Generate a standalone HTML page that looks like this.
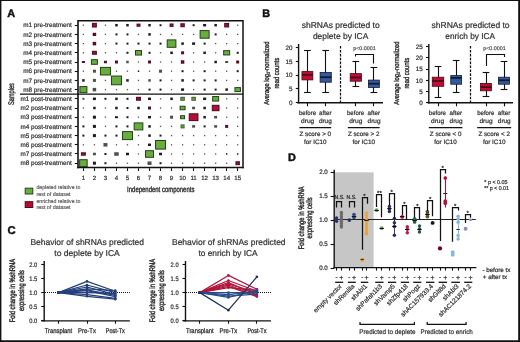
<!DOCTYPE html>
<html><head><meta charset="utf-8"><style>
html,body{margin:0;padding:0;background:#fff;}
svg{display:block;font-family:"Liberation Sans", sans-serif;will-change:transform;text-rendering:geometricPrecision;}
</style></head><body>
<svg width="520" height="342" viewBox="0 0 520 342">
<rect x="0" y="0" width="520" height="342" fill="#fff"/>
<rect x="0.50" y="0.50" width="518.50" height="340.50" fill="none" stroke="#111" stroke-width="1"/>
<rect x="0.00" y="0.00" width="1.40" height="342.00" fill="#111"/>
<rect x="518.40" y="0.00" width="1.60" height="342.00" fill="#111"/>
<rect x="0.00" y="340.50" width="520.00" height="1.50" fill="#111"/>
<text x="7.20" y="16.80" font-size="10.9" text-anchor="start" fill="#111" stroke="#111" stroke-width="0.45" font-weight="bold">A</text>
<text x="71.80" y="27.40" font-size="6.4" text-anchor="end" fill="#333" stroke="#333" stroke-width="0.22" textLength="48.60" lengthAdjust="spacingAndGlyphs">m1 pre-treatment</text>
<line x1="74.80" y1="25.50" x2="77.80" y2="25.50" stroke="#111" stroke-width="1.1"/>
<text x="71.80" y="36.60" font-size="6.4" text-anchor="end" fill="#333" stroke="#333" stroke-width="0.22" textLength="48.60" lengthAdjust="spacingAndGlyphs">m2 pre-treatment</text>
<line x1="74.80" y1="34.50" x2="77.80" y2="34.50" stroke="#111" stroke-width="1.1"/>
<text x="71.80" y="45.80" font-size="6.4" text-anchor="end" fill="#333" stroke="#333" stroke-width="0.22" textLength="48.60" lengthAdjust="spacingAndGlyphs">m3 pre-treatment</text>
<line x1="74.80" y1="43.50" x2="77.80" y2="43.50" stroke="#111" stroke-width="1.1"/>
<text x="71.80" y="55.00" font-size="6.4" text-anchor="end" fill="#333" stroke="#333" stroke-width="0.22" textLength="48.60" lengthAdjust="spacingAndGlyphs">m4 pre-treatment</text>
<line x1="74.80" y1="52.50" x2="77.80" y2="52.50" stroke="#111" stroke-width="1.1"/>
<text x="71.80" y="64.20" font-size="6.4" text-anchor="end" fill="#333" stroke="#333" stroke-width="0.22" textLength="48.60" lengthAdjust="spacingAndGlyphs">m5 pre-treatment</text>
<line x1="74.80" y1="62.50" x2="77.80" y2="62.50" stroke="#111" stroke-width="1.1"/>
<text x="71.80" y="73.40" font-size="6.4" text-anchor="end" fill="#333" stroke="#333" stroke-width="0.22" textLength="48.60" lengthAdjust="spacingAndGlyphs">m6 pre-treatment</text>
<line x1="74.80" y1="71.50" x2="77.80" y2="71.50" stroke="#111" stroke-width="1.1"/>
<text x="71.80" y="82.60" font-size="6.4" text-anchor="end" fill="#333" stroke="#333" stroke-width="0.22" textLength="48.60" lengthAdjust="spacingAndGlyphs">m7 pre-treatment</text>
<line x1="74.80" y1="80.50" x2="77.80" y2="80.50" stroke="#111" stroke-width="1.1"/>
<text x="71.80" y="91.80" font-size="6.4" text-anchor="end" fill="#333" stroke="#333" stroke-width="0.22" textLength="48.60" lengthAdjust="spacingAndGlyphs">m8 pre-treatment</text>
<line x1="74.80" y1="89.50" x2="77.80" y2="89.50" stroke="#111" stroke-width="1.1"/>
<text x="71.80" y="101.00" font-size="6.4" text-anchor="end" fill="#333" stroke="#333" stroke-width="0.22" textLength="51.30" lengthAdjust="spacingAndGlyphs">m1 post-treatment</text>
<line x1="74.80" y1="98.50" x2="77.80" y2="98.50" stroke="#111" stroke-width="1.1"/>
<text x="71.80" y="110.20" font-size="6.4" text-anchor="end" fill="#333" stroke="#333" stroke-width="0.22" textLength="51.30" lengthAdjust="spacingAndGlyphs">m2 post-treatment</text>
<line x1="74.80" y1="108.50" x2="77.80" y2="108.50" stroke="#111" stroke-width="1.1"/>
<text x="71.80" y="119.40" font-size="6.4" text-anchor="end" fill="#333" stroke="#333" stroke-width="0.22" textLength="51.30" lengthAdjust="spacingAndGlyphs">m3 post-treatment</text>
<line x1="74.80" y1="117.50" x2="77.80" y2="117.50" stroke="#111" stroke-width="1.1"/>
<text x="71.80" y="128.60" font-size="6.4" text-anchor="end" fill="#333" stroke="#333" stroke-width="0.22" textLength="51.30" lengthAdjust="spacingAndGlyphs">m4 post-treatment</text>
<line x1="74.80" y1="126.50" x2="77.80" y2="126.50" stroke="#111" stroke-width="1.1"/>
<text x="71.80" y="137.80" font-size="6.4" text-anchor="end" fill="#333" stroke="#333" stroke-width="0.22" textLength="51.30" lengthAdjust="spacingAndGlyphs">m5 post-treatment</text>
<line x1="74.80" y1="135.50" x2="77.80" y2="135.50" stroke="#111" stroke-width="1.1"/>
<text x="71.80" y="147.00" font-size="6.4" text-anchor="end" fill="#333" stroke="#333" stroke-width="0.22" textLength="51.30" lengthAdjust="spacingAndGlyphs">m6 post-treatment</text>
<line x1="74.80" y1="144.50" x2="77.80" y2="144.50" stroke="#111" stroke-width="1.1"/>
<text x="71.80" y="156.20" font-size="6.4" text-anchor="end" fill="#333" stroke="#333" stroke-width="0.22" textLength="51.30" lengthAdjust="spacingAndGlyphs">m7 post-treatment</text>
<line x1="74.80" y1="153.50" x2="77.80" y2="153.50" stroke="#111" stroke-width="1.1"/>
<text x="71.80" y="165.40" font-size="6.4" text-anchor="end" fill="#333" stroke="#333" stroke-width="0.22" textLength="51.30" lengthAdjust="spacingAndGlyphs">m8 post-treatment</text>
<line x1="74.80" y1="163.50" x2="77.80" y2="163.50" stroke="#111" stroke-width="1.1"/>
<rect x="82.75" y="24.55" width="1.30" height="1.30" fill="#555"/>
<rect x="91.92" y="22.85" width="5.00" height="4.70" fill="#5a0c22"/>
<rect x="92.92" y="23.85" width="3.00" height="2.70" fill="#8e1536"/>
<rect x="104.79" y="24.55" width="1.30" height="1.30" fill="#555"/>
<rect x="115.21" y="23.95" width="2.50" height="2.50" fill="#1c1c1c"/>
<rect x="126.23" y="23.95" width="2.50" height="2.50" fill="#1c1c1c"/>
<rect x="136.50" y="23.60" width="4.00" height="3.20" fill="#5a0c22"/>
<rect x="137.50" y="24.60" width="2.00" height="1.20" fill="#8e1536"/>
<rect x="148.27" y="23.95" width="2.50" height="2.50" fill="#1c1c1c"/>
<rect x="159.54" y="24.20" width="2.00" height="2.00" fill="#1c1c1c"/>
<rect x="169.56" y="23.45" width="4.00" height="3.50" fill="#5a0c22"/>
<rect x="170.56" y="24.45" width="2.00" height="1.50" fill="#8e1536"/>
<rect x="180.33" y="23.20" width="4.50" height="4.00" fill="#5a0c22"/>
<rect x="181.33" y="24.20" width="2.50" height="2.00" fill="#8e1536"/>
<rect x="192.60" y="24.20" width="2.00" height="2.00" fill="#1c1c1c"/>
<rect x="203.12" y="23.95" width="3.00" height="2.50" fill="#1c1c1c"/>
<rect x="214.39" y="23.95" width="2.50" height="2.50" fill="#1c1c1c"/>
<rect x="224.16" y="22.95" width="5.00" height="4.50" fill="#5a0c22"/>
<rect x="225.16" y="23.95" width="3.00" height="2.50" fill="#8e1536"/>
<rect x="237.03" y="24.55" width="1.30" height="1.30" fill="#555"/>
<rect x="82.75" y="33.75" width="1.30" height="1.30" fill="#555"/>
<rect x="92.67" y="32.80" width="3.50" height="3.20" fill="#5a0c22"/>
<rect x="104.79" y="33.75" width="1.30" height="1.30" fill="#555"/>
<rect x="115.46" y="33.40" width="2.00" height="2.00" fill="#1c1c1c"/>
<rect x="126.48" y="33.40" width="2.00" height="2.00" fill="#1c1c1c"/>
<rect x="137.85" y="33.75" width="1.30" height="1.30" fill="#555"/>
<rect x="148.27" y="33.15" width="2.50" height="2.50" fill="#1c1c1c"/>
<rect x="159.89" y="33.75" width="1.30" height="1.30" fill="#555"/>
<rect x="170.91" y="33.75" width="1.30" height="1.30" fill="#555"/>
<rect x="181.93" y="33.75" width="1.30" height="1.30" fill="#555"/>
<rect x="192.95" y="33.75" width="1.30" height="1.30" fill="#555"/>
<rect x="200.12" y="30.60" width="9.00" height="7.60" fill="#68ae3c" stroke="#24401a" stroke-width="1.0"/>
<rect x="214.64" y="33.40" width="2.00" height="2.00" fill="#1c1c1c"/>
<rect x="226.01" y="33.75" width="1.30" height="1.30" fill="#555"/>
<rect x="237.03" y="33.75" width="1.30" height="1.30" fill="#555"/>
<rect x="82.75" y="42.95" width="1.30" height="1.30" fill="#555"/>
<rect x="92.67" y="41.85" width="3.50" height="3.50" fill="#5a0c22"/>
<rect x="104.79" y="42.95" width="1.30" height="1.30" fill="#555"/>
<rect x="115.46" y="42.60" width="2.00" height="2.00" fill="#1c1c1c"/>
<rect x="126.48" y="42.60" width="2.00" height="2.00" fill="#1c1c1c"/>
<rect x="137.50" y="42.60" width="2.00" height="2.00" fill="#1c1c1c"/>
<rect x="148.52" y="42.60" width="2.00" height="2.00" fill="#1c1c1c"/>
<rect x="159.54" y="42.60" width="2.00" height="2.00" fill="#1c1c1c"/>
<rect x="167.21" y="39.90" width="8.70" height="7.40" fill="#68ae3c" stroke="#24401a" stroke-width="1.0"/>
<rect x="181.33" y="42.35" width="2.50" height="2.50" fill="#1c1c1c"/>
<rect x="192.10" y="42.35" width="3.00" height="2.50" fill="#1c1c1c"/>
<rect x="203.62" y="42.60" width="2.00" height="2.00" fill="#1c1c1c"/>
<rect x="214.99" y="42.95" width="1.30" height="1.30" fill="#555"/>
<rect x="226.01" y="42.95" width="1.30" height="1.30" fill="#555"/>
<rect x="237.03" y="42.95" width="1.30" height="1.30" fill="#555"/>
<rect x="82.75" y="52.15" width="1.30" height="1.30" fill="#555"/>
<rect x="91.92" y="50.80" width="5.00" height="4.00" fill="#5a0c22"/>
<rect x="92.92" y="51.80" width="3.00" height="2.00" fill="#8e1536"/>
<rect x="104.79" y="52.15" width="1.30" height="1.30" fill="#555"/>
<rect x="115.81" y="52.15" width="1.30" height="1.30" fill="#555"/>
<rect x="126.48" y="51.80" width="2.00" height="2.00" fill="#1c1c1c"/>
<rect x="135.50" y="50.55" width="6.00" height="4.50" fill="#68ae3c" stroke="#24401a" stroke-width="1.0"/>
<rect x="148.52" y="51.80" width="2.00" height="2.00" fill="#1c1c1c"/>
<rect x="159.89" y="52.15" width="1.30" height="1.30" fill="#555"/>
<rect x="170.31" y="51.55" width="2.50" height="2.50" fill="#1c1c1c"/>
<rect x="181.08" y="51.30" width="3.00" height="3.00" fill="#5a0c22"/>
<rect x="192.95" y="52.15" width="1.30" height="1.30" fill="#555"/>
<rect x="203.37" y="51.55" width="2.50" height="2.50" fill="#1c1c1c"/>
<rect x="214.99" y="52.15" width="1.30" height="1.30" fill="#555"/>
<rect x="223.66" y="50.65" width="6.00" height="4.30" fill="#68ae3c" stroke="#24401a" stroke-width="1.0"/>
<rect x="236.68" y="51.80" width="2.00" height="2.00" fill="#1c1c1c"/>
<rect x="81.90" y="61.00" width="3.00" height="2.00" fill="#5a0c22"/>
<rect x="91.42" y="59.70" width="6.00" height="4.60" fill="#68ae3c" stroke="#24401a" stroke-width="1.0"/>
<rect x="103.94" y="60.75" width="3.00" height="2.50" fill="#5a0c22"/>
<rect x="114.96" y="60.50" width="3.00" height="3.00" fill="#5a0c22"/>
<rect x="126.23" y="60.75" width="2.50" height="2.50" fill="#4a5246"/>
<rect x="137.85" y="61.35" width="1.30" height="1.30" fill="#555"/>
<rect x="148.02" y="60.50" width="3.00" height="3.00" fill="#5a0c22"/>
<rect x="159.89" y="61.35" width="1.30" height="1.30" fill="#555"/>
<rect x="170.91" y="61.35" width="1.30" height="1.30" fill="#555"/>
<rect x="180.83" y="60.25" width="3.50" height="3.50" fill="#5a0c22"/>
<rect x="192.95" y="61.35" width="1.30" height="1.30" fill="#555"/>
<rect x="203.97" y="61.35" width="1.30" height="1.30" fill="#555"/>
<rect x="214.39" y="60.75" width="2.50" height="2.50" fill="#1c1c1c"/>
<rect x="225.16" y="61.00" width="3.00" height="2.00" fill="#4a5246"/>
<rect x="236.18" y="60.50" width="3.00" height="3.00" fill="#5a0c22"/>
<rect x="82.75" y="70.55" width="1.30" height="1.30" fill="#555"/>
<rect x="92.92" y="69.70" width="3.00" height="3.00" fill="#4a5246"/>
<rect x="100.44" y="67.40" width="10.00" height="7.60" fill="#68ae3c" stroke="#24401a" stroke-width="1.0"/>
<rect x="115.81" y="70.55" width="1.30" height="1.30" fill="#555"/>
<rect x="126.83" y="70.55" width="1.30" height="1.30" fill="#555"/>
<rect x="137.75" y="70.45" width="1.50" height="1.50" fill="#1c1c1c"/>
<rect x="148.87" y="70.55" width="1.30" height="1.30" fill="#555"/>
<rect x="159.04" y="69.70" width="3.00" height="3.00" fill="#4a5246"/>
<rect x="170.91" y="70.55" width="1.30" height="1.30" fill="#555"/>
<rect x="181.58" y="70.20" width="2.00" height="2.00" fill="#1c1c1c"/>
<rect x="192.95" y="70.55" width="1.30" height="1.30" fill="#555"/>
<rect x="203.62" y="70.20" width="2.00" height="2.00" fill="#1c1c1c"/>
<rect x="214.99" y="70.55" width="1.30" height="1.30" fill="#555"/>
<rect x="226.01" y="70.55" width="1.30" height="1.30" fill="#555"/>
<rect x="236.68" y="70.20" width="2.00" height="2.00" fill="#1c1c1c"/>
<rect x="82.15" y="79.15" width="2.50" height="2.50" fill="#1c1c1c"/>
<rect x="92.92" y="78.90" width="3.00" height="3.00" fill="#4a5246"/>
<rect x="104.79" y="79.75" width="1.30" height="1.30" fill="#555"/>
<rect x="111.46" y="76.05" width="10.00" height="8.70" fill="#68ae3c" stroke="#24401a" stroke-width="1.0"/>
<rect x="126.23" y="79.15" width="2.50" height="2.50" fill="#1c1c1c"/>
<rect x="137.85" y="79.75" width="1.30" height="1.30" fill="#555"/>
<rect x="148.27" y="79.15" width="2.50" height="2.50" fill="#4a5246"/>
<rect x="159.54" y="79.40" width="2.00" height="2.00" fill="#1c1c1c"/>
<rect x="170.91" y="79.75" width="1.30" height="1.30" fill="#555"/>
<rect x="181.33" y="79.15" width="2.50" height="2.50" fill="#1c1c1c"/>
<rect x="192.60" y="79.40" width="2.00" height="2.00" fill="#1c1c1c"/>
<rect x="203.62" y="79.40" width="2.00" height="2.00" fill="#1c1c1c"/>
<rect x="214.64" y="79.40" width="2.00" height="2.00" fill="#1c1c1c"/>
<rect x="226.01" y="79.75" width="1.30" height="1.30" fill="#555"/>
<rect x="237.03" y="79.75" width="1.30" height="1.30" fill="#555"/>
<rect x="79.90" y="86.60" width="7.00" height="6.00" fill="#68ae3c" stroke="#24401a" stroke-width="1.0"/>
<rect x="92.67" y="87.85" width="3.50" height="3.50" fill="#4a5246"/>
<rect x="104.79" y="88.95" width="1.30" height="1.30" fill="#555"/>
<rect x="115.81" y="88.95" width="1.30" height="1.30" fill="#555"/>
<rect x="126.83" y="88.95" width="1.30" height="1.30" fill="#555"/>
<rect x="137.85" y="88.95" width="1.30" height="1.30" fill="#555"/>
<rect x="148.52" y="88.60" width="2.00" height="2.00" fill="#1c1c1c"/>
<rect x="159.54" y="88.60" width="2.00" height="2.00" fill="#1c1c1c"/>
<rect x="170.91" y="88.95" width="1.30" height="1.30" fill="#555"/>
<rect x="181.08" y="88.35" width="3.00" height="2.50" fill="#1c1c1c"/>
<rect x="192.95" y="88.95" width="1.30" height="1.30" fill="#555"/>
<rect x="203.62" y="88.60" width="2.00" height="2.00" fill="#1c1c1c"/>
<rect x="214.64" y="88.60" width="2.00" height="2.00" fill="#1c1c1c"/>
<rect x="225.41" y="88.35" width="2.50" height="2.50" fill="#1c1c1c"/>
<rect x="234.93" y="87.60" width="5.50" height="4.00" fill="#68ae3c" stroke="#24401a" stroke-width="1.0"/>
<rect x="82.40" y="97.80" width="2.00" height="2.00" fill="#4a5246"/>
<rect x="92.92" y="97.55" width="3.00" height="2.50" fill="#1c1c1c"/>
<rect x="104.44" y="97.80" width="2.00" height="2.00" fill="#1c1c1c"/>
<rect x="115.21" y="97.55" width="2.50" height="2.50" fill="#1c1c1c"/>
<rect x="126.48" y="97.80" width="2.00" height="2.00" fill="#1c1c1c"/>
<rect x="136.00" y="96.80" width="5.00" height="4.00" fill="#5a0c22"/>
<rect x="137.00" y="97.80" width="3.00" height="2.00" fill="#8e1536"/>
<rect x="148.02" y="97.55" width="3.00" height="2.50" fill="#1c1c1c"/>
<rect x="159.89" y="98.15" width="1.30" height="1.30" fill="#555"/>
<rect x="170.31" y="97.55" width="2.50" height="2.50" fill="#1c1c1c"/>
<rect x="180.33" y="96.80" width="4.50" height="4.00" fill="#3c5a2c"/>
<rect x="181.23" y="97.70" width="2.70" height="2.20" fill="#6c9a4c"/>
<rect x="191.35" y="96.80" width="4.50" height="4.00" fill="#3c5a2c"/>
<rect x="192.25" y="97.70" width="2.70" height="2.20" fill="#6c9a4c"/>
<rect x="203.12" y="97.55" width="3.00" height="2.50" fill="#1c1c1c"/>
<rect x="212.64" y="96.55" width="6.00" height="4.50" fill="#68ae3c" stroke="#24401a" stroke-width="1.0"/>
<rect x="226.01" y="98.15" width="1.30" height="1.30" fill="#555"/>
<rect x="237.03" y="98.15" width="1.30" height="1.30" fill="#555"/>
<rect x="82.75" y="107.35" width="1.30" height="1.30" fill="#555"/>
<rect x="93.17" y="106.75" width="2.50" height="2.50" fill="#1c1c1c"/>
<rect x="104.79" y="107.35" width="1.30" height="1.30" fill="#555"/>
<rect x="115.21" y="106.75" width="2.50" height="2.50" fill="#1c1c1c"/>
<rect x="126.48" y="107.00" width="2.00" height="2.00" fill="#1c1c1c"/>
<rect x="137.25" y="106.75" width="2.50" height="2.50" fill="#1c1c1c"/>
<rect x="148.02" y="106.50" width="3.00" height="3.00" fill="#5a0c22"/>
<rect x="159.89" y="107.35" width="1.30" height="1.30" fill="#555"/>
<rect x="170.91" y="107.35" width="1.30" height="1.30" fill="#555"/>
<rect x="180.08" y="106.25" width="5.00" height="3.50" fill="#68ae3c" stroke="#24401a" stroke-width="1.0"/>
<rect x="192.10" y="106.75" width="3.00" height="2.50" fill="#4a5246"/>
<rect x="203.37" y="106.75" width="2.50" height="2.50" fill="#1c1c1c"/>
<rect x="212.29" y="105.30" width="6.70" height="5.40" fill="#b50d37" stroke="#4a0818" stroke-width="1.0"/>
<rect x="226.01" y="107.35" width="1.30" height="1.30" fill="#555"/>
<rect x="237.03" y="107.35" width="1.30" height="1.30" fill="#555"/>
<rect x="82.75" y="116.55" width="1.30" height="1.30" fill="#555"/>
<rect x="92.92" y="115.70" width="3.00" height="3.00" fill="#1c1c1c"/>
<rect x="104.79" y="116.55" width="1.30" height="1.30" fill="#555"/>
<rect x="114.96" y="116.20" width="3.00" height="2.00" fill="#1c1c1c"/>
<rect x="126.48" y="116.20" width="2.00" height="2.00" fill="#1c1c1c"/>
<rect x="137.85" y="116.55" width="1.30" height="1.30" fill="#555"/>
<rect x="148.02" y="115.95" width="3.00" height="2.50" fill="#1c1c1c"/>
<rect x="159.89" y="116.55" width="1.30" height="1.30" fill="#555"/>
<rect x="170.06" y="115.70" width="3.00" height="3.00" fill="#4a5246"/>
<rect x="180.58" y="115.70" width="4.00" height="3.00" fill="#68ae3c" stroke="#24401a" stroke-width="1.0"/>
<rect x="189.25" y="113.80" width="8.70" height="6.80" fill="#b50d37" stroke="#4a0818" stroke-width="1.0"/>
<rect x="203.37" y="115.95" width="2.50" height="2.50" fill="#1c1c1c"/>
<rect x="214.14" y="115.95" width="3.00" height="2.50" fill="#4a5246"/>
<rect x="226.01" y="116.55" width="1.30" height="1.30" fill="#555"/>
<rect x="237.03" y="116.55" width="1.30" height="1.30" fill="#555"/>
<rect x="82.40" y="125.40" width="2.00" height="2.00" fill="#1c1c1c"/>
<rect x="92.92" y="124.90" width="3.00" height="3.00" fill="#1c1c1c"/>
<rect x="104.79" y="125.75" width="1.30" height="1.30" fill="#555"/>
<rect x="115.46" y="125.40" width="2.00" height="2.00" fill="#1c1c1c"/>
<rect x="126.48" y="125.40" width="2.00" height="2.00" fill="#1c1c1c"/>
<rect x="134.15" y="122.90" width="8.70" height="7.00" fill="#68ae3c" stroke="#24401a" stroke-width="1.0"/>
<rect x="148.27" y="125.15" width="2.50" height="2.50" fill="#1c1c1c"/>
<rect x="159.89" y="125.75" width="1.30" height="1.30" fill="#555"/>
<rect x="170.91" y="125.75" width="1.30" height="1.30" fill="#555"/>
<rect x="180.58" y="124.40" width="4.00" height="4.00" fill="#3c5a2c"/>
<rect x="181.48" y="125.30" width="2.20" height="2.20" fill="#6c9a4c"/>
<rect x="192.10" y="125.15" width="3.00" height="2.50" fill="#4a5246"/>
<rect x="203.62" y="125.40" width="2.00" height="2.00" fill="#1c1c1c"/>
<rect x="214.14" y="125.15" width="3.00" height="2.50" fill="#4a5246"/>
<rect x="225.16" y="124.90" width="3.00" height="3.00" fill="#5a0c22"/>
<rect x="237.03" y="125.75" width="1.30" height="1.30" fill="#555"/>
<rect x="82.40" y="134.60" width="2.00" height="2.00" fill="#1c1c1c"/>
<rect x="92.92" y="134.10" width="3.00" height="3.00" fill="#1c1c1c"/>
<rect x="104.44" y="134.60" width="2.00" height="2.00" fill="#1c1c1c"/>
<rect x="115.46" y="134.60" width="2.00" height="2.00" fill="#1c1c1c"/>
<rect x="122.48" y="131.60" width="10.00" height="8.00" fill="#68ae3c" stroke="#24401a" stroke-width="1.0"/>
<rect x="137.85" y="134.95" width="1.30" height="1.30" fill="#555"/>
<rect x="148.27" y="134.35" width="2.50" height="2.50" fill="#1c1c1c"/>
<rect x="159.54" y="134.60" width="2.00" height="2.00" fill="#1c1c1c"/>
<rect x="170.91" y="134.95" width="1.30" height="1.30" fill="#555"/>
<rect x="181.93" y="134.95" width="1.30" height="1.30" fill="#555"/>
<rect x="192.95" y="134.95" width="1.30" height="1.30" fill="#555"/>
<rect x="203.97" y="134.95" width="1.30" height="1.30" fill="#555"/>
<rect x="214.99" y="134.95" width="1.30" height="1.30" fill="#555"/>
<rect x="226.01" y="134.95" width="1.30" height="1.30" fill="#555"/>
<rect x="237.03" y="134.95" width="1.30" height="1.30" fill="#555"/>
<rect x="82.75" y="144.15" width="1.30" height="1.30" fill="#555"/>
<rect x="93.77" y="144.15" width="1.30" height="1.30" fill="#555"/>
<rect x="103.44" y="143.05" width="4.00" height="3.50" fill="#4a5246"/>
<rect x="115.81" y="144.15" width="1.30" height="1.30" fill="#555"/>
<rect x="126.83" y="144.15" width="1.30" height="1.30" fill="#555"/>
<rect x="137.85" y="144.15" width="1.30" height="1.30" fill="#555"/>
<rect x="148.02" y="143.55" width="3.00" height="2.50" fill="#1c1c1c"/>
<rect x="155.54" y="140.50" width="10.00" height="8.60" fill="#68ae3c" stroke="#24401a" stroke-width="1.0"/>
<rect x="170.91" y="144.15" width="1.30" height="1.30" fill="#555"/>
<rect x="181.93" y="144.15" width="1.30" height="1.30" fill="#555"/>
<rect x="192.95" y="144.15" width="1.30" height="1.30" fill="#555"/>
<rect x="203.97" y="144.15" width="1.30" height="1.30" fill="#555"/>
<rect x="214.99" y="144.15" width="1.30" height="1.30" fill="#555"/>
<rect x="226.01" y="144.15" width="1.30" height="1.30" fill="#555"/>
<rect x="237.03" y="144.15" width="1.30" height="1.30" fill="#555"/>
<rect x="80.90" y="152.25" width="5.00" height="3.50" fill="#5a0c22"/>
<rect x="81.90" y="153.25" width="3.00" height="1.50" fill="#8e1536"/>
<rect x="92.92" y="152.75" width="3.00" height="2.50" fill="#4a5246"/>
<rect x="104.44" y="153.00" width="2.00" height="2.00" fill="#1c1c1c"/>
<rect x="114.21" y="152.25" width="4.50" height="3.50" fill="#4a5246"/>
<rect x="125.98" y="152.75" width="3.00" height="2.50" fill="#1c1c1c"/>
<rect x="137.85" y="153.35" width="1.30" height="1.30" fill="#555"/>
<rect x="145.52" y="150.70" width="8.00" height="6.60" fill="#68ae3c" stroke="#24401a" stroke-width="1.0"/>
<rect x="159.04" y="152.75" width="3.00" height="2.50" fill="#1c1c1c"/>
<rect x="170.91" y="153.35" width="1.30" height="1.30" fill="#555"/>
<rect x="181.93" y="153.35" width="1.30" height="1.30" fill="#555"/>
<rect x="192.95" y="153.35" width="1.30" height="1.30" fill="#555"/>
<rect x="203.97" y="153.35" width="1.30" height="1.30" fill="#555"/>
<rect x="214.99" y="153.35" width="1.30" height="1.30" fill="#555"/>
<rect x="225.91" y="153.25" width="1.50" height="1.50" fill="#1c1c1c"/>
<rect x="236.93" y="153.25" width="1.50" height="1.50" fill="#1c1c1c"/>
<rect x="79.65" y="159.70" width="7.50" height="7.00" fill="#68ae3c" stroke="#24401a" stroke-width="1.0"/>
<rect x="92.92" y="161.70" width="3.00" height="3.00" fill="#1c1c1c"/>
<rect x="104.44" y="162.20" width="2.00" height="2.00" fill="#1c1c1c"/>
<rect x="115.81" y="162.55" width="1.30" height="1.30" fill="#555"/>
<rect x="126.83" y="162.55" width="1.30" height="1.30" fill="#555"/>
<rect x="137.85" y="162.55" width="1.30" height="1.30" fill="#555"/>
<rect x="147.52" y="161.45" width="4.00" height="3.50" fill="#4a5246"/>
<rect x="159.54" y="162.20" width="2.00" height="2.00" fill="#1c1c1c"/>
<rect x="170.91" y="162.55" width="1.30" height="1.30" fill="#555"/>
<rect x="181.93" y="162.55" width="1.30" height="1.30" fill="#555"/>
<rect x="192.95" y="162.55" width="1.30" height="1.30" fill="#555"/>
<rect x="203.97" y="162.55" width="1.30" height="1.30" fill="#555"/>
<rect x="214.99" y="162.55" width="1.30" height="1.30" fill="#555"/>
<rect x="226.01" y="162.55" width="1.30" height="1.30" fill="#555"/>
<rect x="235.43" y="161.20" width="4.50" height="4.00" fill="#5a0c22"/>
<rect x="236.43" y="162.20" width="2.50" height="2.00" fill="#8e1536"/>
<line x1="78.00" y1="20.70" x2="243.00" y2="20.70" stroke="#111" stroke-width="1.5"/>
<line x1="78.00" y1="20.00" x2="78.00" y2="168.20" stroke="#111" stroke-width="1.6"/>
<line x1="243.00" y1="20.00" x2="243.00" y2="168.20" stroke="#111" stroke-width="1.5"/>
<line x1="77.20" y1="167.60" x2="243.70" y2="167.60" stroke="#111" stroke-width="1.5"/>
<line x1="20.00" y1="94.20" x2="243.00" y2="94.20" stroke="#111" stroke-width="1.3"/>
<line x1="83.50" y1="168.20" x2="83.50" y2="171.00" stroke="#111" stroke-width="1.1"/>
<text x="83.40" y="180.10" font-size="6.1" text-anchor="middle" fill="#333" stroke="#333" stroke-width="0.22">1</text>
<line x1="94.50" y1="168.20" x2="94.50" y2="171.00" stroke="#111" stroke-width="1.1"/>
<text x="94.42" y="180.10" font-size="6.1" text-anchor="middle" fill="#333" stroke="#333" stroke-width="0.22">2</text>
<line x1="105.50" y1="168.20" x2="105.50" y2="171.00" stroke="#111" stroke-width="1.1"/>
<text x="105.44" y="180.10" font-size="6.1" text-anchor="middle" fill="#333" stroke="#333" stroke-width="0.22">3</text>
<line x1="116.50" y1="168.20" x2="116.50" y2="171.00" stroke="#111" stroke-width="1.1"/>
<text x="116.46" y="180.10" font-size="6.1" text-anchor="middle" fill="#333" stroke="#333" stroke-width="0.22">4</text>
<line x1="127.50" y1="168.20" x2="127.50" y2="171.00" stroke="#111" stroke-width="1.1"/>
<text x="127.48" y="180.10" font-size="6.1" text-anchor="middle" fill="#333" stroke="#333" stroke-width="0.22">5</text>
<line x1="138.50" y1="168.20" x2="138.50" y2="171.00" stroke="#111" stroke-width="1.1"/>
<text x="138.50" y="180.10" font-size="6.1" text-anchor="middle" fill="#333" stroke="#333" stroke-width="0.22">6</text>
<line x1="149.50" y1="168.20" x2="149.50" y2="171.00" stroke="#111" stroke-width="1.1"/>
<text x="149.52" y="180.10" font-size="6.1" text-anchor="middle" fill="#333" stroke="#333" stroke-width="0.22">7</text>
<line x1="160.50" y1="168.20" x2="160.50" y2="171.00" stroke="#111" stroke-width="1.1"/>
<text x="160.54" y="180.10" font-size="6.1" text-anchor="middle" fill="#333" stroke="#333" stroke-width="0.22">8</text>
<line x1="171.50" y1="168.20" x2="171.50" y2="171.00" stroke="#111" stroke-width="1.1"/>
<text x="171.56" y="180.10" font-size="6.1" text-anchor="middle" fill="#333" stroke="#333" stroke-width="0.22">9</text>
<line x1="182.50" y1="168.20" x2="182.50" y2="171.00" stroke="#111" stroke-width="1.1"/>
<text x="182.58" y="180.10" font-size="6.1" text-anchor="middle" fill="#333" stroke="#333" stroke-width="0.22">10</text>
<line x1="193.50" y1="168.20" x2="193.50" y2="171.00" stroke="#111" stroke-width="1.1"/>
<text x="193.60" y="180.10" font-size="6.1" text-anchor="middle" fill="#333" stroke="#333" stroke-width="0.22">11</text>
<line x1="204.50" y1="168.20" x2="204.50" y2="171.00" stroke="#111" stroke-width="1.1"/>
<text x="204.62" y="180.10" font-size="6.1" text-anchor="middle" fill="#333" stroke="#333" stroke-width="0.22">12</text>
<line x1="215.50" y1="168.20" x2="215.50" y2="171.00" stroke="#111" stroke-width="1.1"/>
<text x="215.64" y="180.10" font-size="6.1" text-anchor="middle" fill="#333" stroke="#333" stroke-width="0.22">13</text>
<line x1="226.50" y1="168.20" x2="226.50" y2="171.00" stroke="#111" stroke-width="1.1"/>
<text x="226.66" y="180.10" font-size="6.1" text-anchor="middle" fill="#333" stroke="#333" stroke-width="0.22">14</text>
<line x1="237.50" y1="168.20" x2="237.50" y2="171.00" stroke="#111" stroke-width="1.1"/>
<text x="237.68" y="180.10" font-size="6.1" text-anchor="middle" fill="#333" stroke="#333" stroke-width="0.22">15</text>
<text x="127.10" y="191.70" font-size="7.8" text-anchor="start" fill="#333" stroke="#333" stroke-width="0.4" textLength="67.30" lengthAdjust="spacingAndGlyphs">Independent components</text>
<text x="14.10" y="94.10" font-size="8.2" text-anchor="middle" fill="#333" stroke="#333" stroke-width="0.4" textLength="22.00" lengthAdjust="spacingAndGlyphs" transform="rotate(-90 14.10 94.10)">Samples</text>
<rect x="25.20" y="188.20" width="7.60" height="5.80" fill="#68ae3c" stroke="#24401a" stroke-width="1"/>
<rect x="25.20" y="201.70" width="7.60" height="5.80" fill="#b50d37" stroke="#4a0818" stroke-width="1"/>
<text x="36.40" y="189.40" font-size="5.4" text-anchor="start" fill="#555" stroke="#555" stroke-width="0.15" textLength="44.00" lengthAdjust="spacingAndGlyphs">depleted relative to</text>
<text x="36.40" y="195.90" font-size="5.4" text-anchor="start" fill="#555" stroke="#555" stroke-width="0.15">rest of dataset</text>
<text x="36.40" y="202.90" font-size="5.4" text-anchor="start" fill="#555" stroke="#555" stroke-width="0.15" textLength="44.00" lengthAdjust="spacingAndGlyphs">enriched relative to</text>
<text x="36.40" y="209.30" font-size="5.4" text-anchor="start" fill="#555" stroke="#555" stroke-width="0.15">rest of dataset</text>
<text x="262.30" y="16.80" font-size="10.9" text-anchor="start" fill="#111" stroke="#111" stroke-width="0.45" font-weight="bold">B</text>
<text x="301.70" y="28.40" font-size="8.5" text-anchor="start" fill="#333" stroke="#333" stroke-width="0.22" textLength="78.00" lengthAdjust="spacingAndGlyphs">shRNAs predicted to</text>
<text x="312.90" y="38.90" font-size="8.5" text-anchor="start" fill="#333" stroke="#333" stroke-width="0.22" textLength="55.40" lengthAdjust="spacingAndGlyphs">deplete by ICA</text>
<line x1="298.60" y1="44.00" x2="298.60" y2="103.40" stroke="#111" stroke-width="1.4"/>
<line x1="297.40" y1="102.70" x2="383.00" y2="102.70" stroke="#111" stroke-width="1.4"/>
<line x1="295.80" y1="102.50" x2="298.60" y2="102.50" stroke="#111" stroke-width="1.1"/>
<text x="292.60" y="104.90" font-size="6.3" text-anchor="end" fill="#333" stroke="#333" stroke-width="0.22">0</text>
<line x1="295.80" y1="88.50" x2="298.60" y2="88.50" stroke="#111" stroke-width="1.1"/>
<text x="292.60" y="91.10" font-size="6.3" text-anchor="end" fill="#333" stroke="#333" stroke-width="0.22">5</text>
<line x1="295.80" y1="75.50" x2="298.60" y2="75.50" stroke="#111" stroke-width="1.1"/>
<text x="292.60" y="77.30" font-size="6.3" text-anchor="end" fill="#333" stroke="#333" stroke-width="0.22">10</text>
<line x1="295.80" y1="61.50" x2="298.60" y2="61.50" stroke="#111" stroke-width="1.1"/>
<text x="292.60" y="63.50" font-size="6.3" text-anchor="end" fill="#333" stroke="#333" stroke-width="0.22">15</text>
<line x1="295.80" y1="47.50" x2="298.60" y2="47.50" stroke="#111" stroke-width="1.1"/>
<text x="292.60" y="49.70" font-size="6.3" text-anchor="end" fill="#333" stroke="#333" stroke-width="0.22">20</text>
<text x="268.90" y="73.20" font-size="7.2" text-anchor="middle" fill="#333" stroke="#333" stroke-width="0.4" textLength="63.30" lengthAdjust="spacingAndGlyphs" transform="rotate(-90 268.90 73.20)">Average log₂-normalized</text>
<text x="279.00" y="73.20" font-size="7.4" text-anchor="middle" fill="#333" stroke="#333" stroke-width="0.4" textLength="30.80" lengthAdjust="spacingAndGlyphs" transform="rotate(-90 279.00 73.20)">read counts</text>
<line x1="340.50" y1="46.00" x2="340.50" y2="102.70" stroke="#111" stroke-width="1.25" stroke-dasharray="2.6 1.3"/>
<line x1="307.50" y1="50.70" x2="307.50" y2="92.50" stroke="#111" stroke-width="1.1"/>
<line x1="304.05" y1="50.50" x2="310.75" y2="50.50" stroke="#111" stroke-width="1.1"/>
<line x1="304.05" y1="92.50" x2="310.75" y2="92.50" stroke="#111" stroke-width="1.1"/>
<rect x="301.95" y="71.60" width="10.90" height="8.30" fill="#c00d36" stroke="#4a0614" stroke-width="0.8"/>
<line x1="301.95" y1="74.80" x2="312.85" y2="74.80" stroke="#4a0614" stroke-width="1.8"/>
<line x1="325.50" y1="50.70" x2="325.50" y2="92.80" stroke="#111" stroke-width="1.1"/>
<line x1="322.35" y1="50.50" x2="329.05" y2="50.50" stroke="#111" stroke-width="1.1"/>
<line x1="322.35" y1="92.50" x2="329.05" y2="92.50" stroke="#111" stroke-width="1.1"/>
<rect x="320.10" y="72.50" width="11.20" height="9.70" fill="#385a98" stroke="#0d1a3a" stroke-width="0.8"/>
<line x1="320.10" y1="77.20" x2="331.30" y2="77.20" stroke="#0d1a3a" stroke-width="1.8"/>
<line x1="355.50" y1="61.40" x2="355.50" y2="86.80" stroke="#111" stroke-width="1.1"/>
<line x1="352.45" y1="61.50" x2="359.15" y2="61.50" stroke="#111" stroke-width="1.1"/>
<line x1="352.45" y1="86.50" x2="359.15" y2="86.50" stroke="#111" stroke-width="1.1"/>
<rect x="350.20" y="73.60" width="11.20" height="7.60" fill="#c00d36" stroke="#4a0614" stroke-width="0.8"/>
<line x1="350.20" y1="77.50" x2="361.40" y2="77.50" stroke="#4a0614" stroke-width="1.8"/>
<line x1="373.50" y1="67.80" x2="373.50" y2="92.90" stroke="#111" stroke-width="1.1"/>
<line x1="370.55" y1="67.50" x2="377.25" y2="67.50" stroke="#111" stroke-width="1.1"/>
<line x1="370.55" y1="92.50" x2="377.25" y2="92.50" stroke="#111" stroke-width="1.1"/>
<rect x="368.45" y="80.10" width="10.90" height="7.30" fill="#385a98" stroke="#0d1a3a" stroke-width="0.8"/>
<line x1="368.45" y1="83.70" x2="379.35" y2="83.70" stroke="#0d1a3a" stroke-width="1.8"/>
<polyline points="355.5,56.6 355.5,54.5 373.5,54.5 373.5,63.5" fill="none" stroke="#111" stroke-width="1.1"/>
<text x="353.30" y="50.30" font-size="5.3" text-anchor="start" fill="#555" stroke="#555" stroke-width="0.22" textLength="22.30" lengthAdjust="spacingAndGlyphs">p&lt;0.0001</text>
<line x1="307.50" y1="102.70" x2="307.50" y2="106.20" stroke="#111" stroke-width="1.1"/>
<line x1="325.50" y1="102.70" x2="325.50" y2="106.20" stroke="#111" stroke-width="1.1"/>
<line x1="355.50" y1="102.70" x2="355.50" y2="106.20" stroke="#111" stroke-width="1.1"/>
<line x1="373.50" y1="102.70" x2="373.50" y2="106.20" stroke="#111" stroke-width="1.1"/>
<text x="431.60" y="28.40" font-size="8.5" text-anchor="start" fill="#333" stroke="#333" stroke-width="0.22" textLength="78.00" lengthAdjust="spacingAndGlyphs">shRNAs predicted to</text>
<text x="445.30" y="38.90" font-size="8.5" text-anchor="start" fill="#333" stroke="#333" stroke-width="0.22" textLength="49.80" lengthAdjust="spacingAndGlyphs">enrich by ICA</text>
<line x1="428.80" y1="44.00" x2="428.80" y2="103.50" stroke="#111" stroke-width="1.4"/>
<line x1="427.60" y1="102.80" x2="513.00" y2="102.80" stroke="#111" stroke-width="1.4"/>
<line x1="426.00" y1="102.50" x2="428.80" y2="102.50" stroke="#111" stroke-width="1.1"/>
<text x="422.80" y="105.00" font-size="6.3" text-anchor="end" fill="#333" stroke="#333" stroke-width="0.22">0</text>
<line x1="426.00" y1="91.50" x2="428.80" y2="91.50" stroke="#111" stroke-width="1.1"/>
<text x="422.80" y="93.80" font-size="6.3" text-anchor="end" fill="#333" stroke="#333" stroke-width="0.22">5</text>
<line x1="426.00" y1="80.50" x2="428.80" y2="80.50" stroke="#111" stroke-width="1.1"/>
<text x="422.80" y="82.60" font-size="6.3" text-anchor="end" fill="#333" stroke="#333" stroke-width="0.22">10</text>
<line x1="426.00" y1="69.50" x2="428.80" y2="69.50" stroke="#111" stroke-width="1.1"/>
<text x="422.80" y="71.40" font-size="6.3" text-anchor="end" fill="#333" stroke="#333" stroke-width="0.22">15</text>
<line x1="426.00" y1="57.50" x2="428.80" y2="57.50" stroke="#111" stroke-width="1.1"/>
<text x="422.80" y="60.20" font-size="6.3" text-anchor="end" fill="#333" stroke="#333" stroke-width="0.22">20</text>
<line x1="426.00" y1="46.50" x2="428.80" y2="46.50" stroke="#111" stroke-width="1.1"/>
<text x="422.80" y="49.00" font-size="6.3" text-anchor="end" fill="#333" stroke="#333" stroke-width="0.22">25</text>
<text x="398.80" y="73.20" font-size="7.2" text-anchor="middle" fill="#333" stroke="#333" stroke-width="0.4" textLength="63.30" lengthAdjust="spacingAndGlyphs" transform="rotate(-90 398.80 73.20)">Average log₂-normalized</text>
<text x="408.90" y="73.20" font-size="7.4" text-anchor="middle" fill="#333" stroke="#333" stroke-width="0.4" textLength="30.80" lengthAdjust="spacingAndGlyphs" transform="rotate(-90 408.90 73.20)">read counts</text>
<line x1="470.50" y1="46.00" x2="470.50" y2="102.80" stroke="#111" stroke-width="1.25" stroke-dasharray="2.6 1.3"/>
<line x1="438.50" y1="66.20" x2="438.50" y2="97.10" stroke="#111" stroke-width="1.1"/>
<line x1="434.65" y1="66.50" x2="441.35" y2="66.50" stroke="#111" stroke-width="1.1"/>
<line x1="434.65" y1="97.50" x2="441.35" y2="97.50" stroke="#111" stroke-width="1.1"/>
<rect x="432.25" y="77.20" width="11.50" height="9.10" fill="#c00d36" stroke="#4a0614" stroke-width="0.8"/>
<line x1="432.25" y1="81.00" x2="443.75" y2="81.00" stroke="#4a0614" stroke-width="1.8"/>
<line x1="456.50" y1="60.10" x2="456.50" y2="92.80" stroke="#111" stroke-width="1.1"/>
<line x1="452.85" y1="60.50" x2="459.55" y2="60.50" stroke="#111" stroke-width="1.1"/>
<line x1="452.85" y1="92.50" x2="459.55" y2="92.50" stroke="#111" stroke-width="1.1"/>
<rect x="450.75" y="75.60" width="10.90" height="8.60" fill="#385a98" stroke="#0d1a3a" stroke-width="0.8"/>
<line x1="450.75" y1="77.90" x2="461.65" y2="77.90" stroke="#0d1a3a" stroke-width="1.8"/>
<line x1="486.50" y1="72.30" x2="486.50" y2="96.90" stroke="#111" stroke-width="1.1"/>
<line x1="482.65" y1="72.50" x2="489.35" y2="72.50" stroke="#111" stroke-width="1.1"/>
<line x1="482.65" y1="96.50" x2="489.35" y2="96.50" stroke="#111" stroke-width="1.1"/>
<rect x="480.55" y="83.40" width="10.90" height="7.40" fill="#c00d36" stroke="#4a0614" stroke-width="0.8"/>
<line x1="480.55" y1="87.10" x2="491.45" y2="87.10" stroke="#4a0614" stroke-width="1.8"/>
<line x1="504.50" y1="61.20" x2="504.50" y2="89.50" stroke="#111" stroke-width="1.1"/>
<line x1="500.65" y1="61.50" x2="507.35" y2="61.50" stroke="#111" stroke-width="1.1"/>
<line x1="500.65" y1="89.50" x2="507.35" y2="89.50" stroke="#111" stroke-width="1.1"/>
<rect x="498.50" y="77.20" width="11.00" height="7.00" fill="#385a98" stroke="#0d1a3a" stroke-width="0.8"/>
<line x1="498.50" y1="80.30" x2="509.50" y2="80.30" stroke="#0d1a3a" stroke-width="1.8"/>
<polyline points="486.5,66.1 486.5,54.5 504.5,54.5 504.5,56.9" fill="none" stroke="#111" stroke-width="1.1"/>
<text x="483.30" y="50.30" font-size="5.3" text-anchor="start" fill="#555" stroke="#555" stroke-width="0.22" textLength="22.30" lengthAdjust="spacingAndGlyphs">p&lt;0.0001</text>
<line x1="438.50" y1="102.80" x2="438.50" y2="106.30" stroke="#111" stroke-width="1.1"/>
<line x1="456.50" y1="102.80" x2="456.50" y2="106.30" stroke="#111" stroke-width="1.1"/>
<line x1="486.50" y1="102.80" x2="486.50" y2="106.30" stroke="#111" stroke-width="1.1"/>
<line x1="504.50" y1="102.80" x2="504.50" y2="106.30" stroke="#111" stroke-width="1.1"/>
<text x="298.90" y="114.70" font-size="6.3" text-anchor="start" fill="#333" stroke="#333" stroke-width="0.22" textLength="17.20" lengthAdjust="spacingAndGlyphs">before</text>
<text x="318.90" y="114.70" font-size="6.3" text-anchor="start" fill="#333" stroke="#333" stroke-width="0.22" textLength="12.60" lengthAdjust="spacingAndGlyphs">after</text>
<text x="301.10" y="122.70" font-size="6.3" text-anchor="start" fill="#333" stroke="#333" stroke-width="0.22" textLength="13.20" lengthAdjust="spacingAndGlyphs">drug</text>
<text x="318.90" y="122.70" font-size="6.3" text-anchor="start" fill="#333" stroke="#333" stroke-width="0.22" textLength="12.90" lengthAdjust="spacingAndGlyphs">drug</text>
<line x1="299.40" y1="127.60" x2="331.20" y2="127.60" stroke="#111" stroke-width="1.4"/>
<text x="315.30" y="136.40" font-size="6.3" text-anchor="middle" fill="#333" stroke="#333" stroke-width="0.22" textLength="31.60" lengthAdjust="spacingAndGlyphs">Z score &gt; 0</text>
<text x="315.30" y="143.50" font-size="6.3" text-anchor="middle" fill="#333" stroke="#333" stroke-width="0.22" textLength="22.60" lengthAdjust="spacingAndGlyphs">for IC10</text>
<text x="347.00" y="114.70" font-size="6.3" text-anchor="start" fill="#333" stroke="#333" stroke-width="0.22" textLength="17.20" lengthAdjust="spacingAndGlyphs">before</text>
<text x="367.60" y="114.70" font-size="6.3" text-anchor="start" fill="#333" stroke="#333" stroke-width="0.22" textLength="12.60" lengthAdjust="spacingAndGlyphs">after</text>
<text x="349.20" y="122.70" font-size="6.3" text-anchor="start" fill="#333" stroke="#333" stroke-width="0.22" textLength="13.20" lengthAdjust="spacingAndGlyphs">drug</text>
<text x="367.60" y="122.70" font-size="6.3" text-anchor="start" fill="#333" stroke="#333" stroke-width="0.22" textLength="12.90" lengthAdjust="spacingAndGlyphs">drug</text>
<line x1="347.80" y1="127.60" x2="379.60" y2="127.60" stroke="#111" stroke-width="1.4"/>
<text x="363.70" y="136.40" font-size="6.3" text-anchor="middle" fill="#333" stroke="#333" stroke-width="0.22" textLength="31.60" lengthAdjust="spacingAndGlyphs">Z score &gt; 2</text>
<text x="363.70" y="143.50" font-size="6.3" text-anchor="middle" fill="#333" stroke="#333" stroke-width="0.22" textLength="22.60" lengthAdjust="spacingAndGlyphs">for IC10</text>
<text x="428.80" y="114.70" font-size="6.3" text-anchor="start" fill="#333" stroke="#333" stroke-width="0.22" textLength="17.20" lengthAdjust="spacingAndGlyphs">before</text>
<text x="449.60" y="114.70" font-size="6.3" text-anchor="start" fill="#333" stroke="#333" stroke-width="0.22" textLength="12.60" lengthAdjust="spacingAndGlyphs">after</text>
<text x="431.00" y="122.70" font-size="6.3" text-anchor="start" fill="#333" stroke="#333" stroke-width="0.22" textLength="13.20" lengthAdjust="spacingAndGlyphs">drug</text>
<text x="449.60" y="122.70" font-size="6.3" text-anchor="start" fill="#333" stroke="#333" stroke-width="0.22" textLength="12.90" lengthAdjust="spacingAndGlyphs">drug</text>
<line x1="428.80" y1="127.60" x2="462.40" y2="127.60" stroke="#111" stroke-width="1.4"/>
<text x="445.60" y="136.40" font-size="6.3" text-anchor="middle" fill="#333" stroke="#333" stroke-width="0.22" textLength="31.60" lengthAdjust="spacingAndGlyphs">Z score &lt; 0</text>
<text x="445.60" y="143.50" font-size="6.3" text-anchor="middle" fill="#333" stroke="#333" stroke-width="0.22" textLength="22.60" lengthAdjust="spacingAndGlyphs">for IC10</text>
<text x="477.20" y="114.70" font-size="6.3" text-anchor="start" fill="#333" stroke="#333" stroke-width="0.22" textLength="17.20" lengthAdjust="spacingAndGlyphs">before</text>
<text x="497.80" y="114.70" font-size="6.3" text-anchor="start" fill="#333" stroke="#333" stroke-width="0.22" textLength="12.60" lengthAdjust="spacingAndGlyphs">after</text>
<text x="479.40" y="122.70" font-size="6.3" text-anchor="start" fill="#333" stroke="#333" stroke-width="0.22" textLength="13.20" lengthAdjust="spacingAndGlyphs">drug</text>
<text x="497.80" y="122.70" font-size="6.3" text-anchor="start" fill="#333" stroke="#333" stroke-width="0.22" textLength="12.90" lengthAdjust="spacingAndGlyphs">drug</text>
<line x1="477.20" y1="127.60" x2="511.20" y2="127.60" stroke="#111" stroke-width="1.4"/>
<text x="494.20" y="136.40" font-size="6.3" text-anchor="middle" fill="#333" stroke="#333" stroke-width="0.22" textLength="31.60" lengthAdjust="spacingAndGlyphs">Z score &lt; 2</text>
<text x="494.20" y="143.50" font-size="6.3" text-anchor="middle" fill="#333" stroke="#333" stroke-width="0.22" textLength="22.60" lengthAdjust="spacingAndGlyphs">for IC10</text>
<text x="7.40" y="234.30" font-size="11.3" text-anchor="start" fill="#111" stroke="#111" stroke-width="0.45" font-weight="bold">C</text>
<text x="30.40" y="245.30" font-size="8.5" text-anchor="start" fill="#333" stroke="#333" stroke-width="0.22" textLength="113.60" lengthAdjust="spacingAndGlyphs">Behavior of shRNAs predicted</text>
<text x="54.30" y="255.50" font-size="8.5" text-anchor="start" fill="#333" stroke="#333" stroke-width="0.22" textLength="65.50" lengthAdjust="spacingAndGlyphs">to deplete by ICA</text>
<line x1="44.20" y1="261.00" x2="44.20" y2="321.60" stroke="#111" stroke-width="1.4"/>
<line x1="41.40" y1="320.90" x2="129.80" y2="320.90" stroke="#111" stroke-width="1.4"/>
<line x1="41.20" y1="320.50" x2="44.20" y2="320.50" stroke="#111" stroke-width="1.1"/>
<text x="37.30" y="323.20" font-size="6.4" text-anchor="end" fill="#333" stroke="#333" stroke-width="0.22" textLength="8.00" lengthAdjust="spacingAndGlyphs">0.0</text>
<line x1="41.20" y1="306.50" x2="44.20" y2="306.50" stroke="#111" stroke-width="1.1"/>
<text x="37.30" y="309.07" font-size="6.4" text-anchor="end" fill="#333" stroke="#333" stroke-width="0.22" textLength="8.00" lengthAdjust="spacingAndGlyphs">0.5</text>
<line x1="41.20" y1="292.50" x2="44.20" y2="292.50" stroke="#111" stroke-width="1.1"/>
<text x="37.30" y="294.95" font-size="6.4" text-anchor="end" fill="#333" stroke="#333" stroke-width="0.22" textLength="8.00" lengthAdjust="spacingAndGlyphs">1.0</text>
<line x1="41.20" y1="278.50" x2="44.20" y2="278.50" stroke="#111" stroke-width="1.1"/>
<text x="37.30" y="280.82" font-size="6.4" text-anchor="end" fill="#333" stroke="#333" stroke-width="0.22" textLength="8.00" lengthAdjust="spacingAndGlyphs">1.5</text>
<line x1="41.20" y1="264.50" x2="44.20" y2="264.50" stroke="#111" stroke-width="1.1"/>
<text x="37.30" y="266.70" font-size="6.4" text-anchor="end" fill="#333" stroke="#333" stroke-width="0.22" textLength="8.00" lengthAdjust="spacingAndGlyphs">2.0</text>
<line x1="58.50" y1="320.90" x2="58.50" y2="323.70" stroke="#111" stroke-width="1.1"/>
<line x1="87.50" y1="320.90" x2="87.50" y2="323.70" stroke="#111" stroke-width="1.1"/>
<line x1="115.50" y1="320.90" x2="115.50" y2="323.70" stroke="#111" stroke-width="1.1"/>
<text x="58.50" y="333.20" font-size="6.8" text-anchor="middle" fill="#333" stroke="#333" stroke-width="0.3" textLength="27.50" lengthAdjust="spacingAndGlyphs">Transplant</text>
<text x="87.00" y="333.20" font-size="6.8" text-anchor="middle" fill="#333" stroke="#333" stroke-width="0.3" textLength="17.80" lengthAdjust="spacingAndGlyphs">Pre-Tx</text>
<text x="115.30" y="333.20" font-size="6.8" text-anchor="middle" fill="#333" stroke="#333" stroke-width="0.3" textLength="19.00" lengthAdjust="spacingAndGlyphs">Post-Tx</text>
<text x="14.60" y="290.60" font-size="8.0" text-anchor="middle" fill="#333" stroke="#333" stroke-width="0.45" textLength="63.50" lengthAdjust="spacingAndGlyphs" transform="rotate(-90 14.60 290.60)">Fold change in %shRNA</text>
<text x="23.80" y="290.60" font-size="8.0" text-anchor="middle" fill="#333" stroke="#333" stroke-width="0.45" textLength="41.00" lengthAdjust="spacingAndGlyphs" transform="rotate(-90 23.80 290.60)">expressing cells</text>
<line x1="45" y1="292.5" x2="129.8" y2="292.5" stroke="#111" stroke-width="1.2" stroke-dasharray="1 1"/>
<polyline points="58.50,292.65 87.00,281.35 115.30,291.24" fill="none" stroke="#243f7c" stroke-width="1.25" stroke-linejoin="round"/>
<circle cx="58.50" cy="292.65" r="1.3" fill="#243f7c"/>
<circle cx="87.00" cy="281.35" r="1.3" fill="#243f7c"/>
<circle cx="115.30" cy="291.24" r="1.3" fill="#243f7c"/>
<polyline points="58.50,292.65 87.00,285.02 115.30,292.65" fill="none" stroke="#243f7c" stroke-width="1.25" stroke-linejoin="round"/>
<circle cx="58.50" cy="292.65" r="1.3" fill="#243f7c"/>
<circle cx="87.00" cy="285.02" r="1.3" fill="#243f7c"/>
<circle cx="115.30" cy="292.65" r="1.3" fill="#243f7c"/>
<polyline points="58.50,292.65 87.00,287.00 115.30,294.63" fill="none" stroke="#243f7c" stroke-width="1.25" stroke-linejoin="round"/>
<circle cx="58.50" cy="292.65" r="1.3" fill="#243f7c"/>
<circle cx="87.00" cy="287.00" r="1.3" fill="#243f7c"/>
<circle cx="115.30" cy="294.63" r="1.3" fill="#243f7c"/>
<polyline points="58.50,292.65 87.00,288.98 115.30,290.67" fill="none" stroke="#243f7c" stroke-width="1.25" stroke-linejoin="round"/>
<circle cx="58.50" cy="292.65" r="1.3" fill="#243f7c"/>
<circle cx="87.00" cy="288.98" r="1.3" fill="#243f7c"/>
<circle cx="115.30" cy="290.67" r="1.3" fill="#243f7c"/>
<polyline points="58.50,292.65 87.00,290.67 115.30,296.60" fill="none" stroke="#243f7c" stroke-width="1.25" stroke-linejoin="round"/>
<circle cx="58.50" cy="292.65" r="1.3" fill="#243f7c"/>
<circle cx="87.00" cy="290.67" r="1.3" fill="#243f7c"/>
<circle cx="115.30" cy="296.60" r="1.3" fill="#243f7c"/>
<polyline points="58.50,292.65 87.00,292.65 115.30,293.50" fill="none" stroke="#243f7c" stroke-width="1.25" stroke-linejoin="round"/>
<circle cx="58.50" cy="292.65" r="1.3" fill="#243f7c"/>
<circle cx="87.00" cy="292.65" r="1.3" fill="#243f7c"/>
<circle cx="115.30" cy="293.50" r="1.3" fill="#243f7c"/>
<polyline points="58.50,292.65 87.00,294.63 115.30,298.30" fill="none" stroke="#243f7c" stroke-width="1.25" stroke-linejoin="round"/>
<circle cx="58.50" cy="292.65" r="1.3" fill="#243f7c"/>
<circle cx="87.00" cy="294.63" r="1.3" fill="#243f7c"/>
<circle cx="115.30" cy="298.30" r="1.3" fill="#243f7c"/>
<polyline points="58.50,292.65 87.00,296.32 115.30,299.15" fill="none" stroke="#243f7c" stroke-width="1.25" stroke-linejoin="round"/>
<circle cx="58.50" cy="292.65" r="1.3" fill="#243f7c"/>
<circle cx="87.00" cy="296.32" r="1.3" fill="#243f7c"/>
<circle cx="115.30" cy="299.15" r="1.3" fill="#243f7c"/>
<polyline points="58.50,292.65 87.00,289.82 115.30,295.47" fill="none" stroke="#243f7c" stroke-width="1.25" stroke-linejoin="round"/>
<circle cx="58.50" cy="292.65" r="1.3" fill="#243f7c"/>
<circle cx="87.00" cy="289.82" r="1.3" fill="#243f7c"/>
<circle cx="115.30" cy="295.47" r="1.3" fill="#243f7c"/>
<text x="172.00" y="245.40" font-size="8.5" text-anchor="start" fill="#333" stroke="#333" stroke-width="0.22" textLength="113.60" lengthAdjust="spacingAndGlyphs">Behavior of shRNAs predicted</text>
<text x="198.40" y="255.50" font-size="8.5" text-anchor="start" fill="#333" stroke="#333" stroke-width="0.22" textLength="59.30" lengthAdjust="spacingAndGlyphs">to enrich by ICA</text>
<line x1="185.50" y1="261.00" x2="185.50" y2="321.60" stroke="#111" stroke-width="1.4"/>
<line x1="182.70" y1="320.90" x2="271.00" y2="320.90" stroke="#111" stroke-width="1.4"/>
<line x1="182.50" y1="320.50" x2="185.50" y2="320.50" stroke="#111" stroke-width="1.1"/>
<text x="178.60" y="323.20" font-size="6.4" text-anchor="end" fill="#333" stroke="#333" stroke-width="0.22" textLength="8.00" lengthAdjust="spacingAndGlyphs">0.0</text>
<line x1="182.50" y1="306.50" x2="185.50" y2="306.50" stroke="#111" stroke-width="1.1"/>
<text x="178.60" y="309.07" font-size="6.4" text-anchor="end" fill="#333" stroke="#333" stroke-width="0.22" textLength="8.00" lengthAdjust="spacingAndGlyphs">0.5</text>
<line x1="182.50" y1="292.50" x2="185.50" y2="292.50" stroke="#111" stroke-width="1.1"/>
<text x="178.60" y="294.95" font-size="6.4" text-anchor="end" fill="#333" stroke="#333" stroke-width="0.22" textLength="8.00" lengthAdjust="spacingAndGlyphs">1.0</text>
<line x1="182.50" y1="278.50" x2="185.50" y2="278.50" stroke="#111" stroke-width="1.1"/>
<text x="178.60" y="280.82" font-size="6.4" text-anchor="end" fill="#333" stroke="#333" stroke-width="0.22" textLength="8.00" lengthAdjust="spacingAndGlyphs">1.5</text>
<line x1="182.50" y1="264.50" x2="185.50" y2="264.50" stroke="#111" stroke-width="1.1"/>
<text x="178.60" y="266.70" font-size="6.4" text-anchor="end" fill="#333" stroke="#333" stroke-width="0.22" textLength="8.00" lengthAdjust="spacingAndGlyphs">2.0</text>
<line x1="199.50" y1="320.90" x2="199.50" y2="323.70" stroke="#111" stroke-width="1.1"/>
<line x1="228.50" y1="320.90" x2="228.50" y2="323.70" stroke="#111" stroke-width="1.1"/>
<line x1="256.50" y1="320.90" x2="256.50" y2="323.70" stroke="#111" stroke-width="1.1"/>
<text x="199.80" y="333.20" font-size="6.8" text-anchor="middle" fill="#333" stroke="#333" stroke-width="0.3" textLength="27.50" lengthAdjust="spacingAndGlyphs">Transplant</text>
<text x="228.40" y="333.20" font-size="6.8" text-anchor="middle" fill="#333" stroke="#333" stroke-width="0.3" textLength="17.80" lengthAdjust="spacingAndGlyphs">Pre-Tx</text>
<text x="256.90" y="333.20" font-size="6.8" text-anchor="middle" fill="#333" stroke="#333" stroke-width="0.3" textLength="19.00" lengthAdjust="spacingAndGlyphs">Post-Tx</text>
<text x="155.30" y="290.60" font-size="8.0" text-anchor="middle" fill="#333" stroke="#333" stroke-width="0.45" textLength="63.50" lengthAdjust="spacingAndGlyphs" transform="rotate(-90 155.30 290.60)">Fold change in %shRNA</text>
<text x="164.50" y="290.60" font-size="8.0" text-anchor="middle" fill="#333" stroke="#333" stroke-width="0.45" textLength="41.00" lengthAdjust="spacingAndGlyphs" transform="rotate(-90 164.50 290.60)">expressing cells</text>
<line x1="186" y1="292.5" x2="271.0" y2="292.5" stroke="#111" stroke-width="1.2" stroke-dasharray="1 1"/>
<polyline points="199.80,292.65 228.40,275.42 256.90,289.26" fill="none" stroke="#b0143c" stroke-width="1.25" stroke-linejoin="round"/>
<circle cx="199.80" cy="292.65" r="1.3" fill="#b0143c"/>
<circle cx="228.40" cy="275.42" r="1.3" fill="#b0143c"/>
<circle cx="256.90" cy="289.26" r="1.3" fill="#b0143c"/>
<polyline points="199.80,292.65 228.40,280.50 256.90,291.24" fill="none" stroke="#b0143c" stroke-width="1.25" stroke-linejoin="round"/>
<circle cx="199.80" cy="292.65" r="1.3" fill="#b0143c"/>
<circle cx="228.40" cy="280.50" r="1.3" fill="#b0143c"/>
<circle cx="256.90" cy="291.24" r="1.3" fill="#b0143c"/>
<polyline points="199.80,292.65 228.40,282.48 256.90,294.91" fill="none" stroke="#b0143c" stroke-width="1.25" stroke-linejoin="round"/>
<circle cx="199.80" cy="292.65" r="1.3" fill="#b0143c"/>
<circle cx="228.40" cy="282.48" r="1.3" fill="#b0143c"/>
<circle cx="256.90" cy="294.91" r="1.3" fill="#b0143c"/>
<polyline points="199.80,292.65 228.40,283.89 256.90,292.65" fill="none" stroke="#b0143c" stroke-width="1.25" stroke-linejoin="round"/>
<circle cx="199.80" cy="292.65" r="1.3" fill="#b0143c"/>
<circle cx="228.40" cy="283.89" r="1.3" fill="#b0143c"/>
<circle cx="256.90" cy="292.65" r="1.3" fill="#b0143c"/>
<polyline points="199.80,292.65 228.40,285.02 256.90,296.04" fill="none" stroke="#b0143c" stroke-width="1.25" stroke-linejoin="round"/>
<circle cx="199.80" cy="292.65" r="1.3" fill="#b0143c"/>
<circle cx="228.40" cy="285.02" r="1.3" fill="#b0143c"/>
<circle cx="256.90" cy="296.04" r="1.3" fill="#b0143c"/>
<polyline points="199.80,292.65 228.40,286.44 256.90,296.60" fill="none" stroke="#b0143c" stroke-width="1.25" stroke-linejoin="round"/>
<circle cx="199.80" cy="292.65" r="1.3" fill="#b0143c"/>
<circle cx="228.40" cy="286.44" r="1.3" fill="#b0143c"/>
<circle cx="256.90" cy="296.60" r="1.3" fill="#b0143c"/>
<polyline points="199.80,292.65 228.40,287.56 256.90,290.39" fill="none" stroke="#b0143c" stroke-width="1.25" stroke-linejoin="round"/>
<circle cx="199.80" cy="292.65" r="1.3" fill="#b0143c"/>
<circle cx="228.40" cy="287.56" r="1.3" fill="#b0143c"/>
<circle cx="256.90" cy="290.39" r="1.3" fill="#b0143c"/>
<polyline points="199.80,292.65 228.40,292.65 256.90,292.65" fill="none" stroke="#2a4a8a" stroke-width="1.25" stroke-linejoin="round"/>
<circle cx="199.80" cy="292.65" r="1.3" fill="#2a4a8a"/>
<circle cx="228.40" cy="292.65" r="1.3" fill="#2a4a8a"/>
<circle cx="256.90" cy="292.65" r="1.3" fill="#2a4a8a"/>
<polyline points="199.80,292.65 228.40,294.63 256.90,291.52" fill="none" stroke="#2a4a8a" stroke-width="1.25" stroke-linejoin="round"/>
<circle cx="199.80" cy="292.65" r="1.3" fill="#2a4a8a"/>
<circle cx="228.40" cy="294.63" r="1.3" fill="#2a4a8a"/>
<circle cx="256.90" cy="291.52" r="1.3" fill="#2a4a8a"/>
<polyline points="199.80,292.65 228.40,296.04 256.90,294.06" fill="none" stroke="#2a4a8a" stroke-width="1.25" stroke-linejoin="round"/>
<circle cx="199.80" cy="292.65" r="1.3" fill="#2a4a8a"/>
<circle cx="228.40" cy="296.04" r="1.3" fill="#2a4a8a"/>
<circle cx="256.90" cy="294.06" r="1.3" fill="#2a4a8a"/>
<polyline points="199.80,292.65 228.40,297.45 256.90,290.39" fill="none" stroke="#2a4a8a" stroke-width="1.25" stroke-linejoin="round"/>
<circle cx="199.80" cy="292.65" r="1.3" fill="#2a4a8a"/>
<circle cx="228.40" cy="297.45" r="1.3" fill="#2a4a8a"/>
<circle cx="256.90" cy="290.39" r="1.3" fill="#2a4a8a"/>
<polyline points="199.80,292.65 228.40,310.16 256.90,276.83" fill="none" stroke="#1e2f5c" stroke-width="1.25" stroke-linejoin="round"/>
<circle cx="199.80" cy="292.65" r="1.3" fill="#1e2f5c"/>
<circle cx="228.40" cy="310.16" r="1.3" fill="#1e2f5c"/>
<circle cx="256.90" cy="276.83" r="1.3" fill="#1e2f5c"/>
<text x="287.90" y="160.90" font-size="10.9" text-anchor="start" fill="#111" stroke="#111" stroke-width="0.45" font-weight="bold">D</text>
<rect x="334.90" y="172.30" width="38.70" height="95.70" fill="#c6c6c6"/>
<line x1="334.20" y1="169.80" x2="334.20" y2="268.30" stroke="#111" stroke-width="1.4"/>
<line x1="330.60" y1="268.50" x2="334.20" y2="268.50" stroke="#111" stroke-width="1.1"/>
<text x="327.80" y="270.30" font-size="6.4" text-anchor="end" fill="#333" stroke="#333" stroke-width="0.22" textLength="8.60" lengthAdjust="spacingAndGlyphs">0.0</text>
<line x1="330.60" y1="244.50" x2="334.20" y2="244.50" stroke="#111" stroke-width="1.1"/>
<text x="327.80" y="246.30" font-size="6.4" text-anchor="end" fill="#333" stroke="#333" stroke-width="0.22" textLength="8.60" lengthAdjust="spacingAndGlyphs">0.5</text>
<line x1="330.60" y1="220.50" x2="334.20" y2="220.50" stroke="#111" stroke-width="1.1"/>
<text x="327.80" y="222.30" font-size="6.4" text-anchor="end" fill="#333" stroke="#333" stroke-width="0.22" textLength="8.60" lengthAdjust="spacingAndGlyphs">1.0</text>
<line x1="330.60" y1="196.50" x2="334.20" y2="196.50" stroke="#111" stroke-width="1.1"/>
<text x="327.80" y="198.30" font-size="6.4" text-anchor="end" fill="#333" stroke="#333" stroke-width="0.22" textLength="8.60" lengthAdjust="spacingAndGlyphs">1.5</text>
<line x1="330.60" y1="172.50" x2="334.20" y2="172.50" stroke="#111" stroke-width="1.1"/>
<text x="327.80" y="174.30" font-size="6.4" text-anchor="end" fill="#333" stroke="#333" stroke-width="0.22" textLength="8.60" lengthAdjust="spacingAndGlyphs">2.0</text>
<text x="303.60" y="217.80" font-size="8.0" text-anchor="middle" fill="#333" stroke="#333" stroke-width="0.45" textLength="63.00" lengthAdjust="spacingAndGlyphs" transform="rotate(-90 303.60 217.80)">Fold change in %shRNA</text>
<text x="312.40" y="217.90" font-size="8.0" text-anchor="middle" fill="#333" stroke="#333" stroke-width="0.45" textLength="41.00" lengthAdjust="spacingAndGlyphs" transform="rotate(-90 312.40 217.90)">expressing cells</text>
<line x1="334.20" y1="219.50" x2="475.80" y2="219.50" stroke="#222" stroke-width="1.0"/>
<line x1="333.50" y1="267.60" x2="476.40" y2="267.60" stroke="#111" stroke-width="1.4"/>
<line x1="336.50" y1="267.60" x2="336.50" y2="270.60" stroke="#111" stroke-width="1.1"/>
<line x1="341.50" y1="267.60" x2="341.50" y2="270.60" stroke="#111" stroke-width="1.1"/>
<text x="336.60" y="278.80" font-size="6.3" text-anchor="middle" fill="#333" stroke="#333" stroke-width="0.22">-</text>
<text x="341.40" y="279.80" font-size="7.0" text-anchor="middle" fill="#333" stroke="#333" stroke-width="0.22">+</text>
<line x1="335.20" y1="282.30" x2="343.20" y2="282.30" stroke="#111" stroke-width="1.3"/>
<text x="342.40" y="286.70" font-size="6.5" text-anchor="end" fill="#333" stroke="#333" stroke-width="0.22" transform="rotate(-45 342.40 286.70)">empty vector</text>
<line x1="349.50" y1="267.60" x2="349.50" y2="270.60" stroke="#111" stroke-width="1.1"/>
<line x1="354.50" y1="267.60" x2="354.50" y2="270.60" stroke="#111" stroke-width="1.1"/>
<text x="349.30" y="278.80" font-size="6.3" text-anchor="middle" fill="#333" stroke="#333" stroke-width="0.22">-</text>
<text x="354.00" y="279.80" font-size="7.0" text-anchor="middle" fill="#333" stroke="#333" stroke-width="0.22">+</text>
<line x1="347.90" y1="282.30" x2="355.80" y2="282.30" stroke="#111" stroke-width="1.3"/>
<text x="355.00" y="286.70" font-size="6.5" text-anchor="end" fill="#333" stroke="#333" stroke-width="0.22" transform="rotate(-45 355.00 286.70)">shRenilla</text>
<line x1="362.50" y1="267.60" x2="362.50" y2="270.60" stroke="#111" stroke-width="1.1"/>
<line x1="366.50" y1="267.60" x2="366.50" y2="270.60" stroke="#111" stroke-width="1.1"/>
<text x="362.20" y="278.80" font-size="6.3" text-anchor="middle" fill="#333" stroke="#333" stroke-width="0.22">-</text>
<text x="366.50" y="279.80" font-size="7.0" text-anchor="middle" fill="#333" stroke="#333" stroke-width="0.22">+</text>
<line x1="360.80" y1="282.30" x2="368.30" y2="282.30" stroke="#111" stroke-width="1.3"/>
<text x="367.50" y="286.70" font-size="6.5" text-anchor="end" fill="#333" stroke="#333" stroke-width="0.22" transform="rotate(-45 367.50 286.70)">shAbl1</text>
<line x1="376.50" y1="267.60" x2="376.50" y2="270.60" stroke="#111" stroke-width="1.1"/>
<line x1="381.50" y1="267.60" x2="381.50" y2="270.60" stroke="#111" stroke-width="1.1"/>
<text x="376.60" y="278.80" font-size="6.3" text-anchor="middle" fill="#333" stroke="#333" stroke-width="0.22">-</text>
<text x="381.70" y="279.80" font-size="7.0" text-anchor="middle" fill="#333" stroke="#333" stroke-width="0.22">+</text>
<line x1="375.20" y1="282.30" x2="383.50" y2="282.30" stroke="#111" stroke-width="1.3"/>
<text x="382.70" y="286.70" font-size="6.5" text-anchor="end" fill="#333" stroke="#333" stroke-width="0.22" transform="rotate(-45 382.70 286.70)">shPafah1b3</text>
<line x1="389.50" y1="267.60" x2="389.50" y2="270.60" stroke="#111" stroke-width="1.1"/>
<line x1="394.50" y1="267.60" x2="394.50" y2="270.60" stroke="#111" stroke-width="1.1"/>
<text x="389.40" y="278.80" font-size="6.3" text-anchor="middle" fill="#333" stroke="#333" stroke-width="0.22">-</text>
<text x="394.40" y="279.80" font-size="7.0" text-anchor="middle" fill="#333" stroke="#333" stroke-width="0.22">+</text>
<line x1="388.00" y1="282.30" x2="396.20" y2="282.30" stroke="#111" stroke-width="1.3"/>
<text x="395.40" y="286.70" font-size="6.5" text-anchor="end" fill="#333" stroke="#333" stroke-width="0.22" transform="rotate(-45 395.40 286.70)">shVamp5</text>
<line x1="402.50" y1="267.60" x2="402.50" y2="270.60" stroke="#111" stroke-width="1.1"/>
<line x1="407.50" y1="267.60" x2="407.50" y2="270.60" stroke="#111" stroke-width="1.1"/>
<text x="402.20" y="278.80" font-size="6.3" text-anchor="middle" fill="#333" stroke="#333" stroke-width="0.22">-</text>
<text x="407.30" y="279.80" font-size="7.0" text-anchor="middle" fill="#333" stroke="#333" stroke-width="0.22">+</text>
<line x1="400.80" y1="282.30" x2="409.10" y2="282.30" stroke="#111" stroke-width="1.3"/>
<text x="408.30" y="286.70" font-size="6.5" text-anchor="end" fill="#333" stroke="#333" stroke-width="0.22" transform="rotate(-45 408.30 286.70)">shZfp418</text>
<line x1="414.50" y1="267.60" x2="414.50" y2="270.60" stroke="#111" stroke-width="1.1"/>
<line x1="419.50" y1="267.60" x2="419.50" y2="270.60" stroke="#111" stroke-width="1.1"/>
<text x="414.60" y="278.80" font-size="6.3" text-anchor="middle" fill="#333" stroke="#333" stroke-width="0.22">-</text>
<text x="419.50" y="279.80" font-size="7.0" text-anchor="middle" fill="#333" stroke="#333" stroke-width="0.22">+</text>
<line x1="413.20" y1="282.30" x2="421.30" y2="282.30" stroke="#111" stroke-width="1.3"/>
<text x="420.50" y="286.70" font-size="6.5" text-anchor="end" fill="#333" stroke="#333" stroke-width="0.22" transform="rotate(-45 420.50 286.70)">shPogz</text>
<line x1="427.50" y1="267.60" x2="427.50" y2="270.60" stroke="#111" stroke-width="1.1"/>
<line x1="432.50" y1="267.60" x2="432.50" y2="270.60" stroke="#111" stroke-width="1.1"/>
<text x="427.40" y="278.80" font-size="6.3" text-anchor="middle" fill="#333" stroke="#333" stroke-width="0.22">-</text>
<text x="432.60" y="279.80" font-size="7.0" text-anchor="middle" fill="#333" stroke="#333" stroke-width="0.22">+</text>
<line x1="426.00" y1="282.30" x2="434.40" y2="282.30" stroke="#111" stroke-width="1.3"/>
<text x="433.60" y="286.70" font-size="6.5" text-anchor="end" fill="#333" stroke="#333" stroke-width="0.22" transform="rotate(-45 433.60 286.70)">shAC157933.4</text>
<line x1="440.50" y1="267.60" x2="440.50" y2="270.60" stroke="#111" stroke-width="1.1"/>
<line x1="445.50" y1="267.60" x2="445.50" y2="270.60" stroke="#111" stroke-width="1.1"/>
<text x="440.00" y="278.80" font-size="6.3" text-anchor="middle" fill="#333" stroke="#333" stroke-width="0.22">-</text>
<text x="445.30" y="279.80" font-size="7.0" text-anchor="middle" fill="#333" stroke="#333" stroke-width="0.22">+</text>
<line x1="438.60" y1="282.30" x2="447.10" y2="282.30" stroke="#111" stroke-width="1.3"/>
<text x="446.30" y="286.70" font-size="6.5" text-anchor="end" fill="#333" stroke="#333" stroke-width="0.22" transform="rotate(-45 446.30 286.70)">shGlt8d</text>
<line x1="452.50" y1="267.60" x2="452.50" y2="270.60" stroke="#111" stroke-width="1.1"/>
<line x1="458.50" y1="267.60" x2="458.50" y2="270.60" stroke="#111" stroke-width="1.1"/>
<text x="452.70" y="278.80" font-size="6.3" text-anchor="middle" fill="#333" stroke="#333" stroke-width="0.22">-</text>
<text x="458.10" y="279.80" font-size="7.0" text-anchor="middle" fill="#333" stroke="#333" stroke-width="0.22">+</text>
<line x1="451.30" y1="282.30" x2="459.90" y2="282.30" stroke="#111" stroke-width="1.3"/>
<text x="459.10" y="286.70" font-size="6.5" text-anchor="end" fill="#333" stroke="#333" stroke-width="0.22" transform="rotate(-45 459.10 286.70)">shAbi3</text>
<line x1="465.50" y1="267.60" x2="465.50" y2="270.60" stroke="#111" stroke-width="1.1"/>
<line x1="470.50" y1="267.60" x2="470.50" y2="270.60" stroke="#111" stroke-width="1.1"/>
<text x="465.60" y="278.80" font-size="6.3" text-anchor="middle" fill="#333" stroke="#333" stroke-width="0.22">-</text>
<text x="470.50" y="279.80" font-size="7.0" text-anchor="middle" fill="#333" stroke="#333" stroke-width="0.22">+</text>
<line x1="464.20" y1="282.30" x2="472.30" y2="282.30" stroke="#111" stroke-width="1.3"/>
<text x="471.50" y="286.70" font-size="6.5" text-anchor="end" fill="#333" stroke="#333" stroke-width="0.22" transform="rotate(-45 471.50 286.70)">shAC121874.2</text>
<text x="482.40" y="271.80" font-size="6.2" text-anchor="start" fill="#333" stroke="#333" stroke-width="0.22" textLength="28.00" lengthAdjust="spacingAndGlyphs">- before tx</text>
<text x="482.80" y="279.40" font-size="6.2" text-anchor="start" fill="#333" stroke="#333" stroke-width="0.22" textLength="24.40" lengthAdjust="spacingAndGlyphs">+ after tx</text>
<text x="484.30" y="183.50" font-size="5.7" text-anchor="start" fill="#333" stroke="#333" stroke-width="0.22" textLength="23.30" lengthAdjust="spacingAndGlyphs">* p &lt; 0.05</text>
<text x="484.30" y="190.20" font-size="5.7" text-anchor="start" fill="#333" stroke="#333" stroke-width="0.22" textLength="24.60" lengthAdjust="spacingAndGlyphs">** p &lt; 0.01</text>
<polyline points="360.0,322.0 360.0,324.3 414.4,324.3 414.4,322.0" fill="none" stroke="#111" stroke-width="1.2"/>
<polyline points="427.2,322.0 427.2,324.3 466.1,324.3 466.1,322.0" fill="none" stroke="#111" stroke-width="1.2"/>
<text x="359.30" y="333.90" font-size="6.6" text-anchor="start" fill="#333" stroke="#333" stroke-width="0.22" textLength="56.20" lengthAdjust="spacingAndGlyphs">Predicted to deplete</text>
<text x="420.50" y="333.90" font-size="6.6" text-anchor="start" fill="#333" stroke="#333" stroke-width="0.22" textLength="52.30" lengthAdjust="spacingAndGlyphs">Predicted to enrich</text>
<line x1="336.50" y1="217.50" x2="336.50" y2="221.60" stroke="#26336a" stroke-width="0.9"/>
<circle cx="336.60" cy="217.80" r="1.65" fill="#26336a"/>
<circle cx="336.60" cy="219.60" r="1.65" fill="#26336a"/>
<circle cx="336.60" cy="221.30" r="1.65" fill="#26336a"/>
<line x1="341.50" y1="211.70" x2="341.50" y2="227.50" stroke="#707070" stroke-width="1.2"/>
<circle cx="341.40" cy="212.30" r="1.65" fill="#6a6a6a"/>
<circle cx="341.40" cy="214.50" r="1.65" fill="#6a6a6a"/>
<circle cx="341.40" cy="216.80" r="1.65" fill="#6a6a6a"/>
<circle cx="341.40" cy="219.00" r="1.65" fill="#6a6a6a"/>
<circle cx="341.40" cy="221.20" r="1.65" fill="#6a6a6a"/>
<circle cx="341.40" cy="223.40" r="1.65" fill="#6a6a6a"/>
<circle cx="341.40" cy="225.60" r="1.65" fill="#6a6a6a"/>
<circle cx="341.40" cy="227.00" r="1.65" fill="#6a6a6a"/>
<circle cx="349.30" cy="220.10" r="1.85" fill="#26336a"/>
<line x1="354.50" y1="214.20" x2="354.50" y2="218.00" stroke="#26336a" stroke-width="0.9"/>
<circle cx="354.00" cy="214.60" r="1.85" fill="#304a8a"/>
<circle cx="354.00" cy="217.30" r="1.85" fill="#304a8a"/>
<line x1="351.80" y1="216.50" x2="356.20" y2="216.50" stroke="#111" stroke-width="1.0"/>
<circle cx="362.20" cy="259.80" r="2.05" fill="#e39a2e"/>
<line x1="360.60" y1="259.50" x2="363.80" y2="259.50" stroke="#333" stroke-width="1.0"/>
<line x1="366.50" y1="212.20" x2="366.50" y2="234.50" stroke="#e8a33a" stroke-width="1.2"/>
<circle cx="366.50" cy="212.80" r="1.65" fill="#e8a33a"/>
<circle cx="366.50" cy="215.60" r="1.65" fill="#e8a33a"/>
<circle cx="366.50" cy="218.40" r="1.65" fill="#e8a33a"/>
<circle cx="366.50" cy="221.20" r="1.65" fill="#e8a33a"/>
<circle cx="366.50" cy="224.00" r="1.65" fill="#e8a33a"/>
<circle cx="366.50" cy="226.80" r="1.65" fill="#e8a33a"/>
<circle cx="366.50" cy="229.60" r="1.65" fill="#e8a33a"/>
<circle cx="366.50" cy="232.40" r="1.65" fill="#e8a33a"/>
<circle cx="366.50" cy="234.00" r="1.65" fill="#e8a33a"/>
<line x1="364.30" y1="220.50" x2="368.70" y2="220.50" stroke="#222" stroke-width="1.0"/>
<circle cx="376.60" cy="210.10" r="1.9500000000000002" fill="#6a9e4c"/>
<line x1="374.40" y1="210.50" x2="378.80" y2="210.50" stroke="#111" stroke-width="1.0"/>
<circle cx="381.70" cy="228.10" r="1.9500000000000002" fill="#6a9e4c"/>
<line x1="379.50" y1="228.50" x2="383.90" y2="228.50" stroke="#111" stroke-width="1.0"/>
<line x1="389.50" y1="206.20" x2="389.50" y2="212.00" stroke="#2e2d66" stroke-width="0.9"/>
<circle cx="389.40" cy="206.60" r="1.75" fill="#2e2d66"/>
<circle cx="389.40" cy="209.00" r="1.75" fill="#2e2d66"/>
<circle cx="389.40" cy="211.60" r="1.75" fill="#2e2d66"/>
<line x1="387.20" y1="208.50" x2="391.60" y2="208.50" stroke="#111" stroke-width="1.0"/>
<line x1="394.50" y1="217.90" x2="394.50" y2="235.70" stroke="#2e2d66" stroke-width="0.9"/>
<circle cx="394.40" cy="218.60" r="1.75" fill="#2e2d66"/>
<circle cx="394.40" cy="222.80" r="1.75" fill="#2e2d66"/>
<circle cx="394.40" cy="226.60" r="1.75" fill="#2e2d66"/>
<circle cx="394.40" cy="235.20" r="1.75" fill="#2e2d66"/>
<line x1="392.20" y1="226.50" x2="396.60" y2="226.50" stroke="#111" stroke-width="1.0"/>
<circle cx="402.20" cy="216.90" r="1.9500000000000002" fill="#b5103e"/>
<line x1="400.00" y1="216.50" x2="404.40" y2="216.50" stroke="#111" stroke-width="1.0"/>
<line x1="407.50" y1="226.60" x2="407.50" y2="233.20" stroke="#c0175a" stroke-width="0.9"/>
<circle cx="407.30" cy="226.80" r="1.75" fill="#c0175a"/>
<circle cx="407.30" cy="229.20" r="1.75" fill="#c0175a"/>
<circle cx="407.30" cy="232.80" r="1.75" fill="#c0175a"/>
<line x1="405.10" y1="229.50" x2="409.50" y2="229.50" stroke="#111" stroke-width="1.0"/>
<line x1="414.50" y1="218.40" x2="414.50" y2="222.50" stroke="#2b5a4a" stroke-width="0.9"/>
<circle cx="414.60" cy="218.80" r="1.85" fill="#2b5a4a"/>
<circle cx="414.60" cy="220.10" r="1.85" fill="#2b5a4a"/>
<circle cx="414.60" cy="221.90" r="1.85" fill="#2b5a4a"/>
<line x1="412.40" y1="220.50" x2="416.80" y2="220.50" stroke="#111" stroke-width="1.0"/>
<line x1="419.50" y1="225.40" x2="419.50" y2="232.40" stroke="#2b5a4a" stroke-width="0.9"/>
<circle cx="419.50" cy="225.90" r="1.75" fill="#2b5a4a"/>
<circle cx="419.50" cy="228.90" r="1.75" fill="#2b5a4a"/>
<circle cx="419.50" cy="232.00" r="1.75" fill="#2b5a4a"/>
<line x1="417.30" y1="229.50" x2="421.70" y2="229.50" stroke="#111" stroke-width="1.0"/>
<line x1="427.50" y1="211.20" x2="427.50" y2="217.10" stroke="#5e4c2c" stroke-width="0.9"/>
<circle cx="427.40" cy="211.80" r="1.85" fill="#5e4c2c"/>
<circle cx="427.40" cy="214.20" r="1.85" fill="#5e4c2c"/>
<circle cx="427.40" cy="216.60" r="1.85" fill="#5e4c2c"/>
<line x1="425.20" y1="214.50" x2="429.60" y2="214.50" stroke="#111" stroke-width="1.0"/>
<circle cx="432.60" cy="222.90" r="1.9500000000000002" fill="#151515"/>
<circle cx="440.00" cy="248.40" r="2.15" fill="#6a0b22"/>
<line x1="445.50" y1="176.40" x2="445.50" y2="207.60" stroke="#b3103c" stroke-width="1.1"/>
<circle cx="445.30" cy="178.00" r="1.85" fill="#b3103c"/>
<circle cx="445.30" cy="201.20" r="1.85" fill="#b3103c"/>
<circle cx="445.30" cy="203.20" r="1.85" fill="#b3103c"/>
<line x1="443.30" y1="193.50" x2="447.30" y2="193.50" stroke="#222" stroke-width="1.0"/>
<circle cx="452.70" cy="252.30" r="1.9500000000000002" fill="#8fb4dc"/>
<circle cx="452.70" cy="254.80" r="1.9500000000000002" fill="#8fb4dc"/>
<line x1="458.50" y1="215.60" x2="458.50" y2="239.60" stroke="#8fb4dc" stroke-width="1.2"/>
<circle cx="458.10" cy="216.20" r="1.75" fill="#8fb4dc"/>
<circle cx="458.10" cy="219.00" r="1.75" fill="#8fb4dc"/>
<circle cx="458.10" cy="222.20" r="1.75" fill="#8fb4dc"/>
<circle cx="458.10" cy="235.60" r="1.75" fill="#8fb4dc"/>
<circle cx="458.10" cy="239.00" r="1.75" fill="#8fb4dc"/>
<line x1="456.30" y1="229.50" x2="459.90" y2="229.50" stroke="#333" stroke-width="1.0"/>
<circle cx="465.60" cy="228.70" r="1.9500000000000002" fill="#8f8cc0"/>
<polyline points="468.6,218.6 470.5,221.0 472.4,218.6" fill="none" stroke="#8f8cc0" stroke-width="1"/>
<circle cx="470.50" cy="219.80" r="1.35" fill="#8f8cc0"/>
<polyline points="336.5,207.6 336.5,201.5 341.5,201.5 341.5,207.6" fill="none" stroke="#111" stroke-width="1.25"/>
<text x="339.50" y="198.70" font-size="5.8" text-anchor="middle" fill="#222" stroke="#222" stroke-width="0.22" textLength="10.00" lengthAdjust="spacingAndGlyphs">N.S.</text>
<polyline points="349.5,207.6 349.5,201.5 354.5,201.5 354.5,207.6" fill="none" stroke="#111" stroke-width="1.25"/>
<text x="351.50" y="198.70" font-size="5.8" text-anchor="middle" fill="#222" stroke="#222" stroke-width="0.22" textLength="10.00" lengthAdjust="spacingAndGlyphs">N.S.</text>
<polyline points="362.5,249.7 362.5,197.5 367.5,197.5 367.5,203.7" fill="none" stroke="#111" stroke-width="1.25"/>
<text x="364.50" y="197.80" font-size="6.0" text-anchor="middle" fill="#222" stroke="#222" stroke-width="0.22">*</text>
<polyline points="376.5,206.9 376.5,194.5 381.5,194.5 381.5,217.2" fill="none" stroke="#111" stroke-width="1.25"/>
<text x="379.40" y="194.70" font-size="6.0" text-anchor="middle" fill="#222" stroke="#222" stroke-width="0.22">**</text>
<polyline points="389.5,205.5 389.5,193.5 394.5,193.5 394.5,218.6" fill="none" stroke="#111" stroke-width="1.25"/>
<text x="391.70" y="194.20" font-size="6.0" text-anchor="middle" fill="#222" stroke="#222" stroke-width="0.22">*</text>
<polyline points="402.5,214.9 402.5,205.5 406.5,205.5 406.5,220.1" fill="none" stroke="#111" stroke-width="1.25"/>
<text x="404.40" y="205.80" font-size="6.0" text-anchor="middle" fill="#222" stroke="#222" stroke-width="0.22">*</text>
<polyline points="414.5,217.2 414.5,207.5 419.5,207.5 419.5,219.6" fill="none" stroke="#111" stroke-width="1.25"/>
<text x="417.30" y="207.90" font-size="6.0" text-anchor="middle" fill="#222" stroke="#222" stroke-width="0.22">*</text>
<polyline points="427.5,211.2 427.5,200.5 432.5,200.5 432.5,216.2" fill="none" stroke="#111" stroke-width="1.25"/>
<text x="430.20" y="201.40" font-size="6.0" text-anchor="middle" fill="#222" stroke="#222" stroke-width="0.22">*</text>
<polyline points="440.5,241.1 440.5,169.5 445.5,169.5 445.5,173.5" fill="none" stroke="#111" stroke-width="1.25"/>
<text x="442.60" y="169.70" font-size="6.0" text-anchor="middle" fill="#222" stroke="#222" stroke-width="0.22">*</text>
<polyline points="452.5,241.8 452.5,207.5 458.5,207.5 458.5,210.5" fill="none" stroke="#111" stroke-width="1.25"/>
<text x="455.20" y="207.80" font-size="6.0" text-anchor="middle" fill="#222" stroke="#222" stroke-width="0.22">*</text>
<polyline points="465.5,223.0 465.5,214.5 470.5,214.5 470.5,217.8" fill="none" stroke="#111" stroke-width="1.25"/>
<text x="467.70" y="214.70" font-size="6.0" text-anchor="middle" fill="#222" stroke="#222" stroke-width="0.22">*</text>
</svg></body></html>
